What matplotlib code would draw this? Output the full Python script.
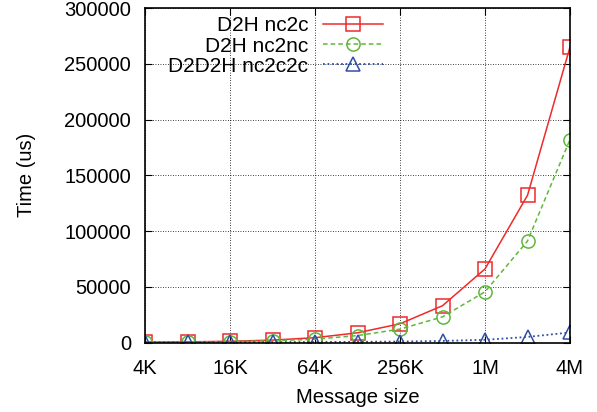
import matplotlib
matplotlib.use('Agg')
import matplotlib.pyplot as plt

# message sizes in KB
sizes = [4, 8, 16, 32, 64, 128, 256, 512, 1024, 2048, 4096]
tick_sizes = [4, 16, 64, 256, 1024, 4096]
tick_labels = ["4K", "16K", "64K", "256K", "1M", "4M"]

d2h_nc2c = [300, 550, 1100, 2150, 4300, 8700, 16800, 33000, 66000, 132000, 265000]
d2h_nc2nc = [250, 450, 800, 1500, 3000, 6200, 12000, 23000, 45500, 91000, 182000]
d2d2h_nc2c2c = [200, 220, 260, 330, 420, 600, 850, 1400, 2400, 5000, 9000]

plt.rcParams['font.family'] = ['Liberation Sans', 'DejaVu Sans']
plt.rcParams['font.size'] = 14.5

fig = plt.figure(figsize=(5.97, 4.12), dpi=100)
ax = fig.add_axes([145/597, 1 - 342.5/412, 425/597, 334.5/412])

ms = 9.5
ax.plot(sizes, d2h_nc2c, color='#ee2a2a', ls='-', lw=1.1, marker='s', ms=ms,
        mfc='none', mec='#ee2a2a', mew=1.1, label='D2H nc2c')
ax.plot(sizes, d2h_nc2nc, color='#5fb73b', ls=(0, (3, 2)), lw=1.1, marker='o', ms=ms,
        mfc='none', mec='#5fb73b', mew=1.1, label='D2H nc2nc')
ax.plot(sizes, d2d2h_nc2c2c, color='#2f4fa5', ls=(0, (1, 1.5)), lw=1.3, marker='^', ms=ms,
        mfc='none', mec='#2f4fa5', mew=1.1, label='D2D2H nc2c2c')

ax.set_xscale('log', base=2)
ax.set_xlim(4, 4096)
ax.set_ylim(0, 300000)
ax.set_xticks(tick_sizes)
ax.set_xticklabels(tick_labels)
ax.minorticks_off()
ax.set_yticks(range(0, 300001, 50000))

ax.grid(True, color='black', ls=(0, (1, 2)), lw=0.6)
ax.tick_params(direction='in', top=True, right=True, length=5, width=0.8)
ax.tick_params(axis='x', pad=12)
ax.tick_params(axis='y', pad=10)
for s in ax.spines.values():
    s.set_linewidth(1.2)

ax.set_xlabel('Message size', labelpad=7)
ax.set_ylabel('Time (us)', labelpad=20)

leg = ax.legend(loc='upper right', bbox_to_anchor=(0.597, 1.022), frameon=False,
                markerfirst=False, handlelength=2.9, handletextpad=0.7,
                labelspacing=0.06, borderpad=0.25, fontsize=15)

fig.savefig('out.png', dpi=100)
